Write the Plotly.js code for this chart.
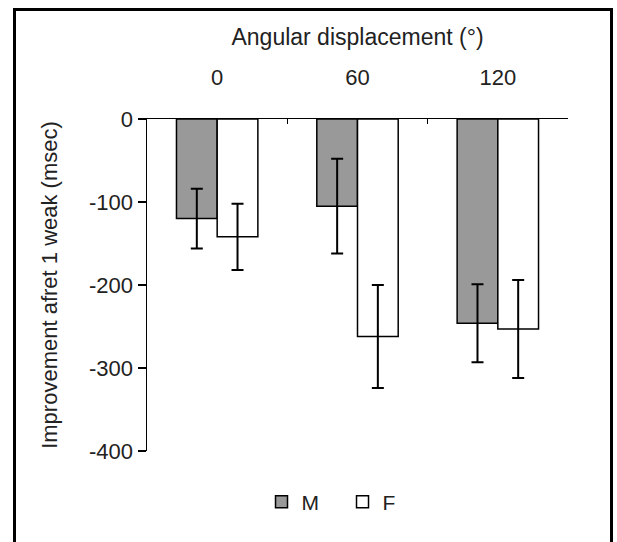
<!DOCTYPE html>
<html>
<head>
<meta charset="utf-8">
<script src="https://cdn.plot.ly/plotly-3.0.1.min.js"></script>
<style>
  html, body { margin: 0; padding: 0; background: #fff; }
  #wrap { position: relative; width: 617px; height: 542px; overflow: hidden; }
  #chart { width: 617px; height: 542px; }
  #frame { position: absolute; left: 13px; top: 8px; width: 594px; height: 600px;
           border: 3px solid #000; pointer-events: none; }
</style>
</head>
<body>
<div id="wrap">
  <div id="chart"></div>
  <div id="frame"></div>
</div>
<script>
const categories = ["0", "60", "120"];
const maleValues = [-120, -105, -246];
const maleErrors = [36, 57, 47];
const femaleValues = [-142, -262, -253];
const femaleErrors = [40, 62, 59];
const yTicks = [0, -100, -200, -300, -400];

const font = "Liberation Sans, Arial, sans-serif";

const traces = [
  {
    type: "bar", name: "M", x: categories, y: maleValues,
    marker: { color: "#999999", line: { color: "#000", width: 1.5 } },
    error_y: { type: "data", array: maleErrors, visible: true, color: "#000", thickness: 2, width: 6 }
  },
  {
    type: "bar", name: "F", x: categories, y: femaleValues,
    marker: { color: "#ffffff", line: { color: "#000", width: 1.5 } },
    error_y: { type: "data", array: femaleErrors, visible: true, color: "#000", thickness: 2, width: 6 }
  }
];

const layout = {
  width: 617, height: 542,
  margin: { l: 147, r: 49, t: 119, b: 91 },
  paper_bgcolor: "#fff", plot_bgcolor: "#fff",
  font: { family: font, size: 22, color: "#222" },
  barmode: "group", bargap: 0.42, bargroupgap: 0,
  showlegend: true,
  legend: {
    orientation: "h", x: 0.272, xanchor: "left", y: -0.154, yanchor: "middle",
    font: { family: font, size: 21, color: "#222" },
    entrywidth: 36, itemwidth: 30
  },
  xaxis: {
    type: "category", side: "top",
    title: { text: "Angular displacement (°)", font: { family: font, size: 23, color: "#222" }, standoff: 12 },
    showline: true, linecolor: "#000", linewidth: 1.5,
    ticks: "inside", tickson: "boundaries", ticklen: 5, tickcolor: "#000", tickwidth: 1.5,
    ticklabelstandoff: 24,
    showgrid: false, zeroline: false, fixedrange: true
  },
  yaxis: {
    range: [-400, 0], tickvals: yTicks, ticktext: yTicks.map(String),
    title: { text: "Improvement afret 1 weak (msec)", font: { family: font, size: 22, color: "#222" }, standoff: 25 },
    showline: true, linecolor: "#000", linewidth: 1.5,
    ticks: "outside", ticklen: 8, tickcolor: "#000", tickwidth: 1.5,
    showgrid: false, zeroline: false, fixedrange: true
  }
};

Plotly.newPlot("chart", traces, layout, { displayModeBar: false, staticPlot: true });
</script>
</body>
</html>
